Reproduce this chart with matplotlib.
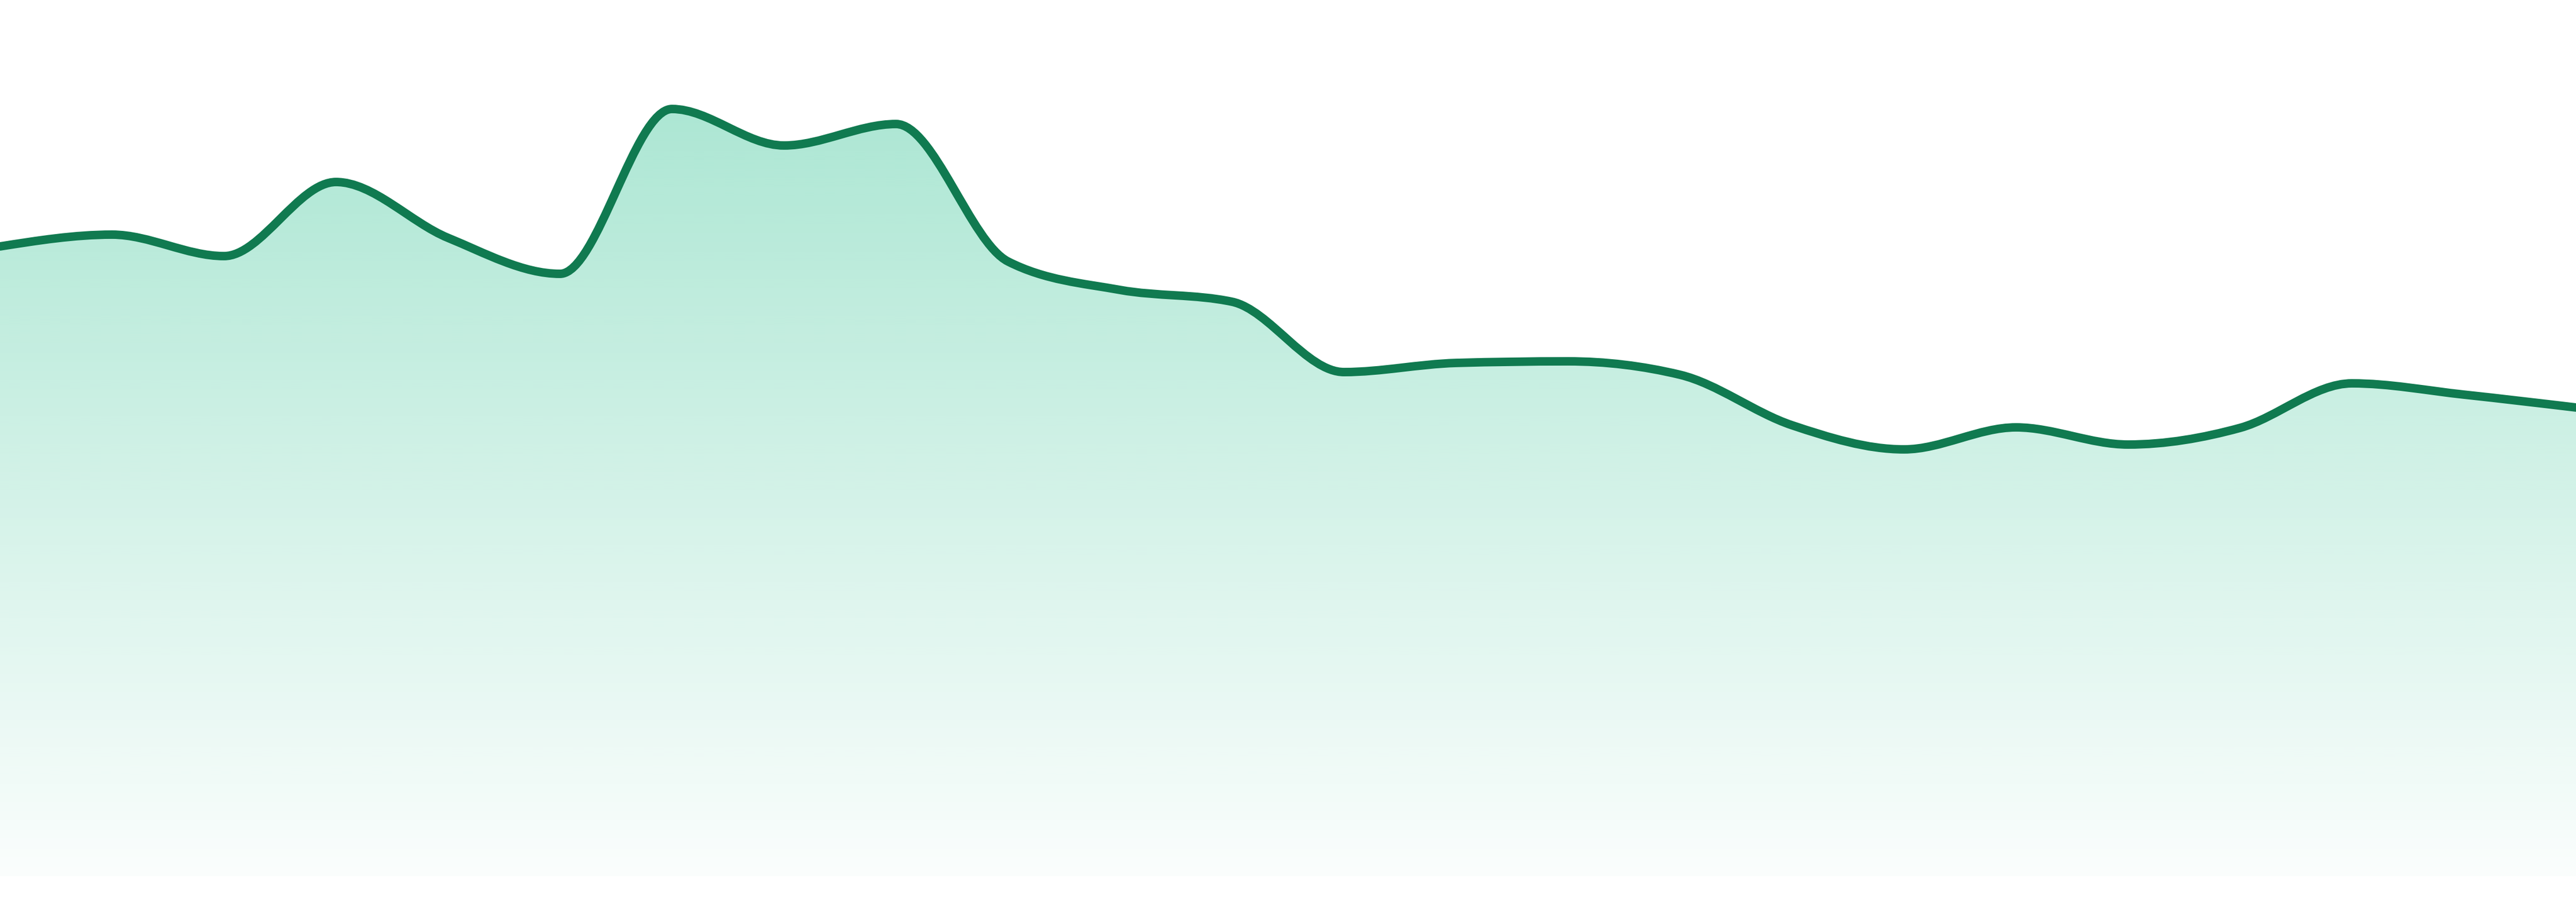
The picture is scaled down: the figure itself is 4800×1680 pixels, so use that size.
import numpy as np
import matplotlib
matplotlib.use("Agg")
import matplotlib.pyplot as plt
from matplotlib.path import Path
from matplotlib.patches import PathPatch

LINE = "#107A50"
FILL = (16 / 255, 185 / 255, 129 / 255)

# 24 samples, evenly spaced
days = list(range(24))
values = [117.3, 119.5, 115.5, 129.3, 118.9, 112.2, 142.9, 136.1,
          140.1, 114.5, 109.2, 107.0, 93.9, 95.6, 95.9, 93.4,
          84.0, 79.5, 83.6, 80.4, 83.5, 91.8, 89.7, 87.3]


def monotone_slopes(x, y):
    # same tangents as d3.curveMonotoneX
    x = np.asarray(x, float)
    y = np.asarray(y, float)
    n = len(x)
    t = np.zeros(n)
    sgn = lambda v: -1.0 if v < 0 else 1.0
    for i in range(1, n - 1):
        h0, h1 = x[i] - x[i - 1], x[i + 1] - x[i]
        s0, s1 = (y[i] - y[i - 1]) / h0, (y[i + 1] - y[i]) / h1
        p = (s0 * h1 + s1 * h0) / (h0 + h1)
        t[i] = (sgn(s0) + sgn(s1)) * min(abs(s0), abs(s1), 0.5 * abs(p))
    h = x[1] - x[0]
    t[0] = (3 * (y[1] - y[0]) / h - t[1]) / 2
    h = x[-1] - x[-2]
    t[-1] = (3 * (y[-1] - y[-2]) / h - t[-2]) / 2
    return t


def curve_vertices(x, y):
    t = monotone_slopes(x, y)
    verts = [(x[0], y[0])]
    codes = [Path.MOVETO]
    for i in range(len(x) - 1):
        dx = (x[i + 1] - x[i]) / 3
        verts += [(x[i] + dx, y[i] + dx * t[i]),
                  (x[i + 1] - dx, y[i + 1] - dx * t[i + 1]),
                  (x[i + 1], y[i + 1])]
        codes += [Path.CURVE4] * 3
    return verts, codes


fig = plt.figure(figsize=(16, 5.6), dpi=300)
ax = fig.add_axes([0, 0, 1, 1])
ax.set_xlim(days[0], days[-1])
ax.set_ylim(-4.8, 163.2)
ax.axis("off")

verts, codes = curve_vertices(days, values)

# area under the curve, gradient fill
area_verts = verts + [(days[-1], 0), (days[0], 0), (days[0], values[0])]
area_codes = codes + [Path.LINETO, Path.LINETO, Path.CLOSEPOLY]
area = PathPatch(Path(area_verts, area_codes), facecolor="none", edgecolor="none")
ax.add_patch(area)

top = max(values)
grad = np.zeros((256, 1, 4))
grad[..., 0], grad[..., 1], grad[..., 2] = FILL
grad[:, 0, 3] = np.linspace(0.35, 0.02, 256)
img = ax.imshow(grad, extent=(days[0], days[-1], 0, top + 1.5), origin="upper",
                aspect="auto", interpolation="bilinear", zorder=1)
img.set_clip_path(area)

line = PathPatch(Path(verts, codes), facecolor="none", edgecolor=LINE,
                 linewidth=3.8, capstyle="round", joinstyle="round", zorder=2)
ax.add_patch(line)

fig.savefig("out.png", dpi=300, facecolor="white")
